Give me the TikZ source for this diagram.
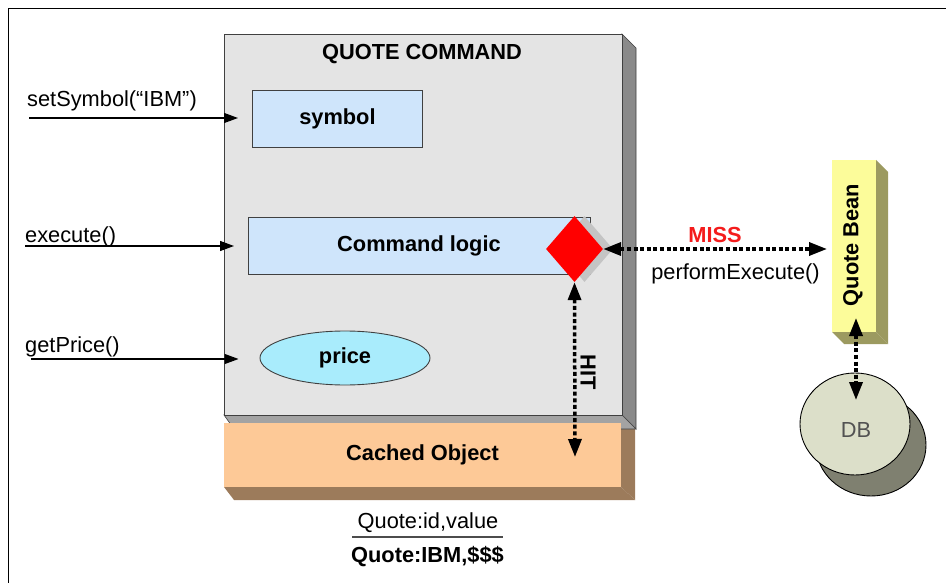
\documentclass[tikz,border=0pt]{standalone}
\usepackage{fontspec}
\setmainfont{Liberation Sans}
\usetikzlibrary{arrows.meta,shapes.geometric}
\definecolor{panel}{HTML}{E4E4E4}
\definecolor{panelside}{HTML}{8A8A8A}
\definecolor{panelfloor}{HTML}{A3A3A3}
\definecolor{boxblue}{HTML}{CFE5FB}
\definecolor{pricecyan}{HTML}{A9ECFC}
\definecolor{cache}{HTML}{FDC997}
\definecolor{cacheside}{HTML}{9C7B5B}
\definecolor{bean}{HTML}{FCFC9A}
\definecolor{beanside}{HTML}{9C9A60}
\definecolor{dbfront}{HTML}{DCDFC9}
\definecolor{dbback}{HTML}{7F8070}
\definecolor{edge}{HTML}{404040}
\definecolor{missred}{HTML}{F41C1C}
\begin{document}
\begin{tikzpicture}[x=1pt,y=-1pt,
  lab/.style={font=\fontsize{21.8}{25}\selectfont, inner sep=0pt},
  blab/.style={font=\fontsize{21.8}{25}\selectfont\bfseries, inner sep=0pt},
  panelbox/.style={draw=edge, line width=0.9pt, anchor=north west, inner sep=0pt},
  callarrow/.style={line width=1.2pt, -{Triangle[length=14pt,width=10pt]}},
  dotarrow/.style={line width=3.5pt, dash pattern=on 4pt off 2.6pt,
    {Triangle[length=18pt,width=13pt]}-{Triangle[length=18pt,width=13pt]}}]
\useasboundingbox (0,0) rectangle (946,583);

% page frame
\draw[line width=1.5pt] (946,8.5) -- (8.5,8.5) -- (8.5,583);

% cached object extrusion
\fill[cacheside] (621,429) -- (635,429) -- (635,500) -- (621,487) -- cycle;
\fill[cacheside] (224,487) -- (621,487) -- (635,500) -- (234,500) -- cycle;

% command panel extrusion
\filldraw[fill=panelside, draw=edge, line width=0.6pt] (622,34) -- (636,48) -- (636,429) -- (622,415) -- cycle;
\filldraw[fill=panelfloor, draw=edge, line width=0.6pt] (224,415) -- (622,415) -- (636,429) -- (234,429) -- cycle;

% command panel
\node[panelbox, fill=panel, minimum width=398pt, minimum height=381pt] (panel) at (224,34) {};
\node[blab, anchor=base] (title) at (422,60) {QUOTE COMMAND};

% cached object front
\node[anchor=north west, inner sep=0pt, fill=cache, minimum width=397pt, minimum height=64pt] (cached) at (224,423) {};
\node[blab] (cachedtext) at (422.5,455) {Cached Object};

% inner members
\node[panelbox, fill=boxblue, minimum width=170pt, minimum height=57pt] (symbol) at (252,90) {};
\node[blab] at (symbol.center) {symbol};
\node[panelbox, fill=boxblue, minimum width=342pt, minimum height=57pt] (logic) at (248,217) {};
\node[blab] at (419,245.5) {Command logic};
\node[ellipse, draw=edge, line width=0.9pt, fill=pricecyan, minimum width=170pt, minimum height=54pt, inner sep=0pt] (price) at (345,358) {};
\node[blab] at (price.center) {price};

% cache decision diamond
\node[diamond, fill=black!23, minimum width=57pt, minimum height=66pt, inner sep=0pt] (gateshadow) at (584.5,249) {};
\node[diamond, fill=red, minimum width=57pt, minimum height=66pt, inner sep=0pt] (gate) at (574.5,249) {};

% quote bean
\fill[beanside] (876,160) -- (888,172) -- (888,344) -- (876,332) -- cycle;
\fill[beanside] (832,332) -- (876,332) -- (888,344) -- (844,344) -- cycle;
\node[anchor=north west, inner sep=0pt, fill=bean, minimum width=44pt, minimum height=172pt] (bean) at (832,160) {};
\node[blab, rotate=90] at (853,245) {Quote Bean};

% database
\draw[fill=dbback, line width=0.9pt] (871,445) ellipse [x radius=55, y radius=51];
\node[ellipse, draw, line width=0.9pt, fill=dbfront, minimum width=110pt, minimum height=102pt, inner sep=0pt] (db) at (855,424) {};
\node[lab, text=black!68] at (856,430) {DB};

% incoming calls
\coordinate (c1) at (29,118);
\coordinate (c2) at (25,246);
\coordinate (c3) at (31,359);
\node[lab, anchor=base west] at (27,107) {setSymbol(“IBM”)};
\node[lab, anchor=base west] at (25,242) {execute()};
\node[lab, anchor=base west] at (25,352) {getPrice()};
\draw[callarrow, shorten >=14pt] (c1) -- (c1 -| symbol.west);
\draw[callarrow, shorten >=14pt] (c2) -- (c2 -| logic.west);
\draw[callarrow, shorten >=21pt] (c3) -- (c3 -| price.west);

% miss path
\draw[dotarrow, shorten >=5pt] (gate.east) -- (gate.east -| bean.west);
\node[blab, text=missred, anchor=base] at (715,242) {MISS};
\node[lab, anchor=base] at (735.5,279) {performExecute()};

% hit path
\coordinate (hitend) at (575,457);
\draw[dotarrow] (gate.south) -- (hitend);
\node[blab, rotate=-90] at (588,372) {HIT};

% bean to database
\coordinate (beanend) at (856,318);
\coordinate (dbend) at (856,400);
\draw[dotarrow] (beanend) -- (dbend);

% key legend
\node[lab, anchor=base] (keyname) at (428,528) {Quote:id,value};
\coordinate (rulel) at (352,537);
\coordinate (ruler) at (503,537);
\draw[line width=1.3pt, black!70] (rulel) -- (ruler);
\node[blab, anchor=base] (keyval) at (427.5,562) {Quote:IBM,\$\$\$};
\end{tikzpicture}
\end{document}
